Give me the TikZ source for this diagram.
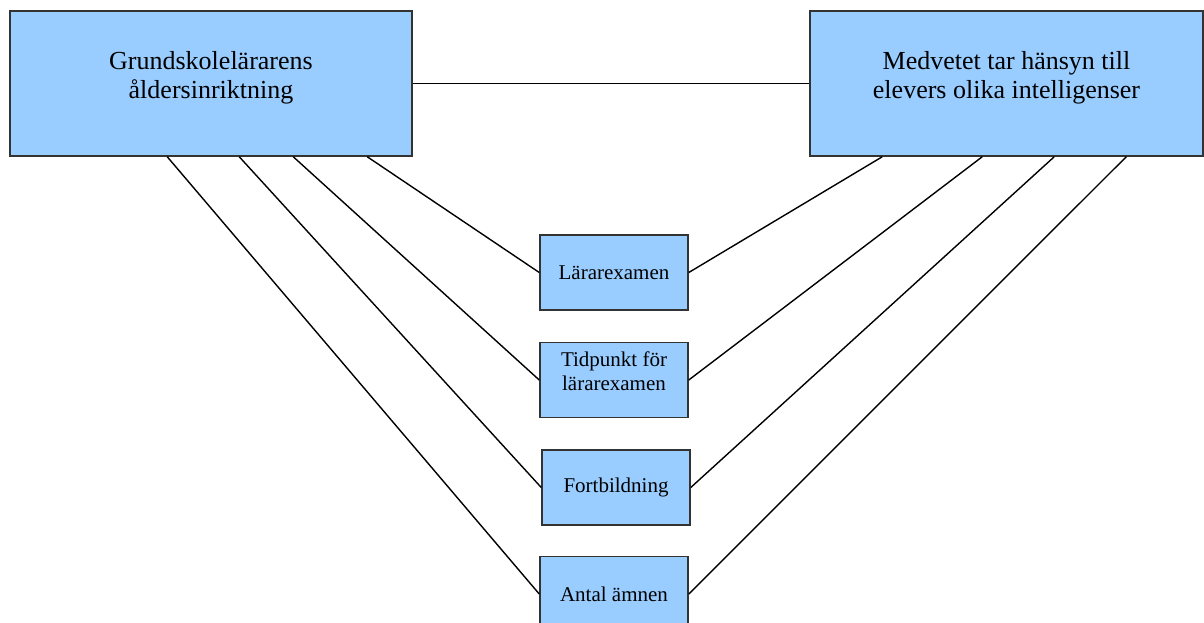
\documentclass[tikz,border=0pt]{standalone}
\usepackage{fontspec}
\setmainfont{Liberation Serif}
\usepackage{tikz}
\usetikzlibrary{positioning}
\definecolor{boxblue}{RGB}{153,204,255}

\begin{document}
\begin{tikzpicture}[x=1pt,y=-1pt,line width=1.4pt,node distance=31pt,
                big node/.style={rectangle,draw=black!80,fill=boxblue,line width=1.5pt,minimum width=402pt,minimum height=145pt},
                small node/.style={rectangle,draw=black!80,fill=boxblue,line width=1.5pt,minimum width=148pt,minimum height=75pt,align=center,font=\fontsize{21}{24}\selectfont},
                big text/.style={align=center,font=\fontsize{26}{29}\selectfont,yshift=6pt},
                small text/.style={align=center,font=\fontsize{21}{24}\selectfont,yshift=9pt}]
            \useasboundingbox (0,0) rectangle (1204,623);
            \node[big node,label={[big text]center:{Grundskolelärarens\\åldersinriktning}}] (grund) at (211,83.5) {};
            \node[big node,minimum width=393pt,label={[big text]center:{Medvetet tar hänsyn till\\elevers olika intelligenser}}] (medv) at (1006.5,83.5) {};
            \node[small node] (lar) at (614,272.5) {Lärarexamen};
            \node[small node,label={[small text]center:{Tidpunkt för\\lärarexamen}}] (tid) [below=of lar] {};
            \node[small node] (fort) [below=of tid,xshift=2pt] {Fortbildning};
            \node[small node] (antal) [below=30pt of fort,xshift=-2pt] {Antal ämnen};
            \path
                (grund) edge (medv)
                ([xshift=158pt]grund.south west) edge (antal.west)
                ([xshift=230pt]grund.south west) edge (fort.west)
                ([xshift=284pt]grund.south west) edge (tid.west)
                ([xshift=358pt]grund.south west) edge (lar.west)
                ([xshift=73pt]medv.south west) edge (lar.east)
                ([xshift=173pt]medv.south west) edge (tid.east)
                ([xshift=245pt]medv.south west) edge (fort.east)
                ([xshift=317pt]medv.south west) edge (antal.east);
        \end{tikzpicture}
\end{document}
